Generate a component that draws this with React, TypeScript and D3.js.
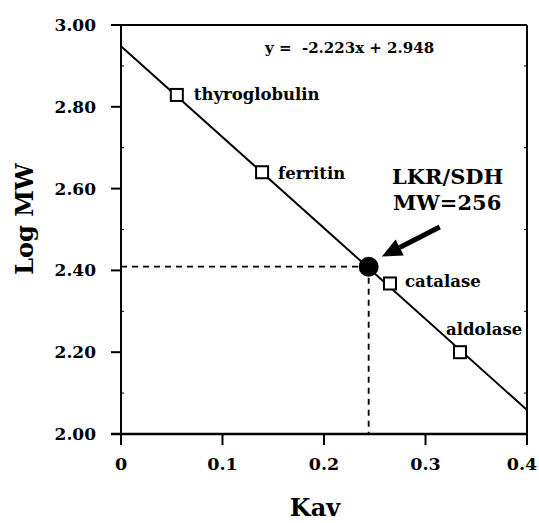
import React from 'react';
import * as d3 from 'd3';

// standards (Kav, log MW)
const standards = ['thyroglobulin', 'ferritin', 'catalase', 'aldolase'];
const kav = [0.055, 0.139, 0.265, 0.334];
const logMW = [2.829, 2.64, 2.368, 2.2];
const labelDx = [17, 16, 15, -14];
const labelDy = [5, 7, 4, -17];

// unknown
const unknownKav = 0.244;
const unknownLogMW = 2.409;

// fit
const slope = -2.223;
const intercept = 2.948;

const xTicks = [0, 0.1, 0.2, 0.3, 0.4];
const xTickLabels = ['0', '0.1', '0.2', '0.3', '0.4'];
const yTicks = [2.0, 2.2, 2.4, 2.6, 2.8, 3.0];
const yTickLabels = ['2.00', '2.20', '2.40', '2.60', '2.80', '3.00'];

// arrow annotation (data units)
const arrowFrom = [0.314, 2.506];
const arrowTo = [0.257, 2.434];

const W = 539;
const H = 523;
const FONT = '"DejaVu Serif", serif';

export default function App() {
  const x = d3.scaleLinear().domain([0, 0.4]).range([121, 527]);
  const y = d3.scaleLinear().domain([2, 3]).range([434, 25]);
  const [x0, x1] = x.range();
  const [y0, y1] = y.range();

  const fitLine = d3.line<number>()
    .x(d => x(d))
    .y(d => y(slope * d + intercept));

  // arrow geometry
  const ax1 = x(arrowFrom[0]), ay1 = y(arrowFrom[1]);
  const ax2 = x(arrowTo[0]), ay2 = y(arrowTo[1]);
  const ang = Math.atan2(ay2 - ay1, ax2 - ax1);
  const headLen = 20, headW = 9;
  const bx = ax2 - headLen * Math.cos(ang), by = ay2 - headLen * Math.sin(ang);
  const px = -Math.sin(ang), py = Math.cos(ang);
  const head = `M${ax2},${ay2}L${bx + px * headW},${by + py * headW}L${bx - px * headW},${by - py * headW}Z`;

  const minorY = d3.range(2.1, 3.0, 0.2);

  return (
    <svg width={W} height={H} style={{ position: 'absolute', left: 0, top: 0, background: '#fff' }}>
      {/* frame */}
      <line x1={x0 - 10} x2={x1} y1={y1} y2={y1} stroke="#000" strokeWidth={2} />
      <line x1={x1} x2={x1} y1={y1} y2={y0 + 11} stroke="#000" strokeWidth={2} />
      <line x1={x0} x2={x0} y1={y1} y2={y0 + 11} stroke="#000" strokeWidth={2} />
      <line x1={x0 - 10} x2={x1} y1={y0} y2={y0} stroke="#000" strokeWidth={2.5} />

      {/* y ticks */}
      {yTicks.map((t, i) => (
        <g key={t}>
          <line x1={x0 - 10} x2={x0} y1={y(t)} y2={y(t)} stroke="#000" strokeWidth={2} />
          <text x={x0 - 25} y={y(t) + 6} textAnchor="end" fontFamily={FONT} fontWeight="bold" fontSize={17}>
            {yTickLabels[i]}
          </text>
        </g>
      ))}
      {minorY.map(t => (
        <g key={t}>
          <line x1={x0} x2={x0 + 3} y1={y(t)} y2={y(t)} stroke="#000" strokeWidth={1} />
          <line x1={x1 - 3} x2={x1} y1={y(t)} y2={y(t)} stroke="#000" strokeWidth={1} />
        </g>
      ))}

      {/* x ticks */}
      {xTicks.map((t, i) => (
        <g key={t}>
          <line x1={x(t)} x2={x(t)} y1={y0} y2={y0 + 11} stroke="#000" strokeWidth={2} />
          <text x={i === xTicks.length - 1 ? x(t) - 5 : x(t)} y={y0 + 36} textAnchor="middle" fontFamily={FONT} fontWeight="bold" fontSize={17.5}>
            {xTickLabels[i]}
          </text>
        </g>
      ))}

      {/* axis titles */}
      <text x={315} y={516} textAnchor="middle" fontFamily={FONT} fontWeight="bold" fontSize={24}>Kav</text>
      <text transform="translate(33,219) rotate(-90)" textAnchor="middle" fontFamily={FONT} fontWeight="bold" fontSize={24}>Log MW</text>

      {/* equation */}
      <text x={265} y={53} fontFamily={FONT} fontWeight="bold" fontSize={15} xmlSpace="preserve">
        {`y =  ${slope.toFixed(3)}x + ${intercept.toFixed(3)}`}
      </text>

      {/* dashed guides */}
      <line x1={x0} x2={x(unknownKav)} y1={y(unknownLogMW)} y2={y(unknownLogMW)} stroke="#000" strokeWidth={1.8} strokeDasharray="6,5" />
      <line x1={x(unknownKav)} x2={x(unknownKav)} y1={y(unknownLogMW)} y2={y0} stroke="#000" strokeWidth={1.8} strokeDasharray="6,5" />

      {/* fit line */}
      <path d={fitLine([0, 0.4]) || ''} fill="none" stroke="#000" strokeWidth={2} />

      {/* standards */}
      {standards.map((s, i) => (
        <g key={s}>
          <rect x={x(kav[i]) - 6} y={y(logMW[i]) - 6} width={12} height={12} fill="#fff" stroke="#000" strokeWidth={2} />
          <text x={x(kav[i]) + labelDx[i]} y={y(logMW[i]) + labelDy[i]} fontFamily={FONT} fontWeight="bold" fontSize={16.5}>{s}</text>
        </g>
      ))}

      {/* unknown */}
      <circle cx={x(unknownKav)} cy={y(unknownLogMW)} r={10} fill="#000" />

      {/* annotation */}
      <line x1={ax1} y1={ay1} x2={bx} y2={by} stroke="#000" strokeWidth={5} />
      <path d={head} fill="#000" />
      <text x={392} y={184} fontFamily={FONT} fontWeight="bold" fontSize={21}>LKR/SDH</text>
      <text x={393} y={210} fontFamily={FONT} fontWeight="bold" fontSize={21}>MW=256</text>
    </svg>
  );
}
